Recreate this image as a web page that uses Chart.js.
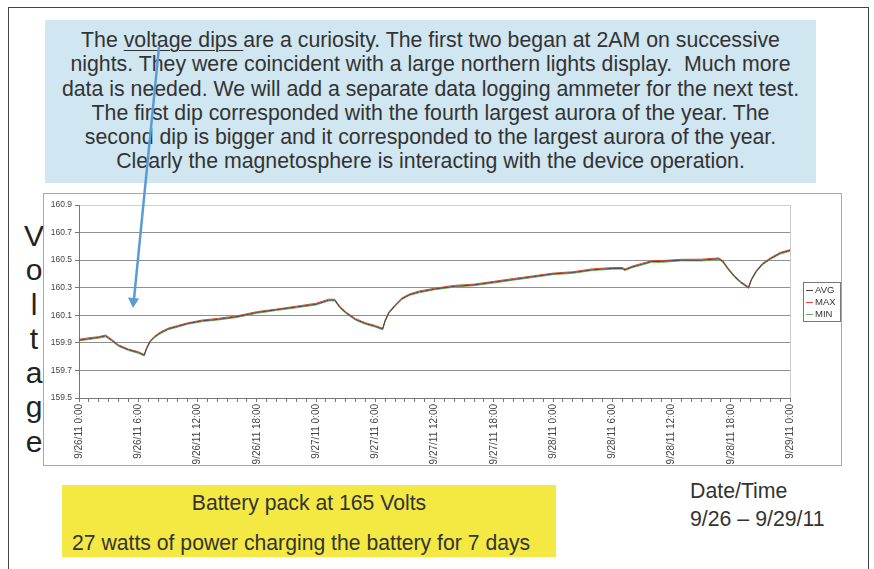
<!DOCTYPE html>
<html>
<head>
<meta charset="utf-8">
<script src="https://cdn.jsdelivr.net/npm/chart.js@4.4.0/dist/chart.umd.min.js"></script>
<style>
body { margin: 0; width: 874px; height: 569px; background: #fff; position: relative; overflow: hidden;
       font-family: "Liberation Sans", Arial, sans-serif; color: #333; }
#frame { position: absolute; left: 8px; top: 7px; width: 859px; height: 600px; border: 1.5px solid #444; }
#note { position: absolute; left: 45px; top: 20px; width: 771px; height: 155px; padding-top: 8px;
        background: #d0e6f1; font-size: 21.3px; line-height: 24.3px; text-align: center; color: #333; }
#note u { text-decoration-thickness: 1px; text-underline-offset: 3px; }
#chartbox { position: absolute; left: 43px; top: 193px; width: 797px; height: 271px; border: 1px solid #a8a8a8; }
#axisTitle { position: absolute; left: 19px; top: 219px; width: 30px; text-align: center;
             font-size: 30px; line-height: 34.3px; color: #222; }
#battery { position: absolute; left: 62px; top: 485px; width: 494px; height: 72px; background: #f4e943;
           font-size: 21.2px; color: #333; }
#battery .l1 { position: absolute; top: 6px; width: 100%; text-align: center; }
#battery .l2 { position: absolute; top: 46px; left: 10px; }
#dates { position: absolute; left: 690px; top: 477px; font-size: 21.3px; line-height: 28px; color: #333; }
svg { position: absolute; left: 0; top: 0; }
</style>
</head>
<body>
<div id="frame"></div>
<div id="note">
The <u>voltage dips </u>are a curiosity. The first two began at 2AM on successive<br>
nights. They were coincident with a large northern lights display.&nbsp; Much more<br>
data is needed. We will add a separate data logging ammeter for the next test.<br>
The first dip corresponded with the fourth largest aurora of the year. The<br>
second dip is bigger and it corresponded to the largest aurora of the year.<br>
Clearly the magnetosphere is interacting with the device operation.
</div>
<div id="axisTitle">V<br>o<br>l<br>t<br>a<br>g<br>e</div>
<div id="chartbox"><canvas id="grafico"></canvas></div>
<div id="battery">
  <div class="l1">Battery pack at 165 Volts</div>
  <div class="l2">27 watts of power charging the battery for 7 days</div>
</div>
<div id="dates">Date/Time<br>9/26 – 9/29/11</div>
<svg width="874" height="569">
  <line x1="159" y1="47" x2="134" y2="299" stroke="#5b9bd5" stroke-width="2.5"/>
  <polygon points="133,308 139,298.5 128,297.5" fill="#5b9bd5"/>
</svg>

<script>
// horas desde 9/26/11 0:00
var hours = [0, 1, 2, 2.7, 3.3, 4, 5, 6, 6.6, 6.85,
    7.2, 7.6, 8.2, 9, 10, 11, 12.5, 14, 16, 18,
    20, 22, 24, 25.3, 25.9, 26.4, 27, 28, 29, 30,
    30.75, 31, 31.4, 32, 32.7, 33.5, 34.5, 36, 38, 40,
    42, 44, 46, 48, 50, 52, 54, 55, 55.3, 56,
    57, 58, 59, 61, 63, 64.8, 65.2, 65.8, 66.4, 67,
    67.8, 68.1, 68.6, 69.2, 70, 71, 72];

var avgVolts = [159.92, 159.93, 159.94, 159.95, 159.92, 159.88, 159.85, 159.83, 159.81, 159.86,
    159.91, 159.94, 159.97, 160.00, 160.02, 160.04, 160.06, 160.07, 160.09, 160.12,
    160.14, 160.16, 160.18, 160.21, 160.21, 160.16, 160.12, 160.07, 160.04, 160.02,
    160.00, 160.06, 160.12, 160.17, 160.22, 160.25, 160.27, 160.29, 160.31, 160.32,
    160.34, 160.36, 160.38, 160.40, 160.41, 160.43, 160.44, 160.44, 160.43, 160.45,
    160.47, 160.49, 160.49, 160.50, 160.50, 160.51, 160.49, 160.43, 160.38, 160.34,
    160.30, 160.36, 160.42, 160.47, 160.51, 160.55, 160.57];

var maxVolts = [159.926, 159.937, 159.945, 159.957, 159.926, 159.886, 159.855, 159.836, 159.816, 159.866,
    159.915, 159.946, 159.977, 160.006, 160.026, 160.045, 160.066, 160.077, 160.096, 160.126,
    160.145, 160.166, 160.187, 160.217, 160.216, 160.166, 160.126, 160.076, 160.046, 160.026,
    160.006, 160.066, 160.126, 160.176, 160.226, 160.256, 160.277, 160.296, 160.317, 160.326,
    160.346, 160.367, 160.386, 160.406, 160.416, 160.437, 160.446, 160.447, 160.436, 160.456,
    160.477, 160.496, 160.497, 160.506, 160.507, 160.516, 160.496, 160.436, 160.386, 160.346,
    160.306, 160.366, 160.426, 160.476, 160.516, 160.556, 160.576];

var minVolts = [159.915, 159.924, 159.934, 159.944, 159.914, 159.875, 159.845, 159.824, 159.805, 159.855,
    159.904, 159.935, 159.964, 159.995, 160.014, 160.035, 160.054, 160.065, 160.084, 160.114,
    160.135, 160.154, 160.175, 160.204, 160.205, 160.154, 160.115, 160.064, 160.035, 160.014,
    159.995, 160.054, 160.115, 160.164, 160.214, 160.245, 160.264, 160.285, 160.304, 160.315,
    160.334, 160.355, 160.374, 160.395, 160.404, 160.425, 160.434, 160.435, 160.424, 160.445,
    160.464, 160.485, 160.484, 160.495, 160.494, 160.505, 160.484, 160.425, 160.374, 160.335,
    160.295, 160.354, 160.415, 160.464, 160.505, 160.544, 160.565];

var xTickLabels = ["9/26/11 0:00", "9/26/11 6:00", "9/26/11 12:00", "9/26/11 18:00",
    "9/27/11 0:00", "9/27/11 6:00", "9/27/11 12:00", "9/27/11 18:00",
    "9/28/11 0:00", "9/28/11 6:00", "9/28/11 12:00", "9/28/11 18:00", "9/29/11 0:00"];

var yTicks = [159.5, 159.7, 159.9, 160.1, 160.3, 160.5, 160.7, 160.9];

function pontos(values) {
    return hours.map(function (h, i) { return { x: h, y: values[i] }; });
}

// legenda com borda, estilo Excel
var legendaBox = {
    id: "legendaBox",
    afterDraw: function (chart) {
        var ctx = chart.ctx;
        var a = chart.chartArea;
        var left = a.right + 13, w = 37, h = 39;
        var top = Math.round((a.top + a.bottom) / 2 - h / 2);
        ctx.save();
        ctx.strokeStyle = "#777";
        ctx.lineWidth = 1;
        ctx.strokeRect(left + 0.5, top + 0.5, w, h);
        ctx.font = '9.5px "Liberation Sans", Arial';
        ctx.textBaseline = "middle";
        chart.data.datasets.forEach(function (ds, i) {
            var y = top + 8.5 + i * 12;
            ctx.strokeStyle = ds.borderColor;
            ctx.beginPath();
            ctx.moveTo(left + 3, y);
            ctx.lineTo(left + 10, y);
            ctx.stroke();
            ctx.fillStyle = "#333";
            ctx.fillText(ds.label, left + 12, y);
        });
        ctx.restore();
    }
};

function gerarGrafico() {
    var ctx = document.getElementById("grafico").getContext("2d");
    new Chart(ctx, {
        type: "line",
        data: {
            datasets: [
                { label: "AVG", data: pontos(avgVolts), borderColor: "#444444", borderWidth: 1, pointRadius: 0 },
                { label: "MAX", data: pontos(maxVolts), borderColor: "#e0473a", borderWidth: 1, pointRadius: 0 },
                { label: "MIN", data: pontos(minVolts), borderColor: "#62b350", borderWidth: 1, pointRadius: 0 }
            ]
        },
        options: {
            responsive: true,
            maintainAspectRatio: false,
            animation: false,
            layout: { padding: { top: 11, right: 51, left: 0, bottom: 0 } },
            plugins: { legend: { display: false }, tooltip: { enabled: false } },
            elements: { line: { tension: 0 } },
            scales: {
                x: {
                    type: "linear",
                    min: 0,
                    max: 72,
                    afterFit: function (s) { s.height = 67; },
                    ticks: {
                        stepSize: 1,
                        autoSkip: false,
                        minRotation: 90,
                        maxRotation: 90,
                        color: "#444",
                        font: { family: "Liberation Sans", size: 10 },
                        padding: 2,
                        callback: function (v) { return v % 6 === 0 ? xTickLabels[v / 6] : ""; }
                    },
                    grid: {
                        color: function (c) { return c.tick && c.tick.value === 72 ? "#cccccc" : "rgba(0,0,0,0)"; },
                        tickColor: "#777",
                        tickLength: 4
                    },
                    border: { color: "#777" }
                },
                y: {
                    min: 159.5,
                    max: 160.9,
                    afterFit: function (s) { s.width = 35; },
                    afterBuildTicks: function (s) { s.ticks = yTicks.map(function (v) { return { value: v }; }); },
                    ticks: {
                        color: "#444",
                        font: { family: "Liberation Sans", size: 8.5 },
                        padding: 3,
                        callback: function (v) { return v.toFixed(1); }
                    },
                    grid: {
                        color: function (c) { return c.tick && c.tick.value === 160.9 ? "#d0d0d0" : "#909090"; },
                        tickColor: "#777",
                        tickLength: 4
                    },
                    border: { color: "#777" }
                }
            }
        },
        plugins: [legendaBox]
    });
}

gerarGrafico();
</script>
</body>
</html>
